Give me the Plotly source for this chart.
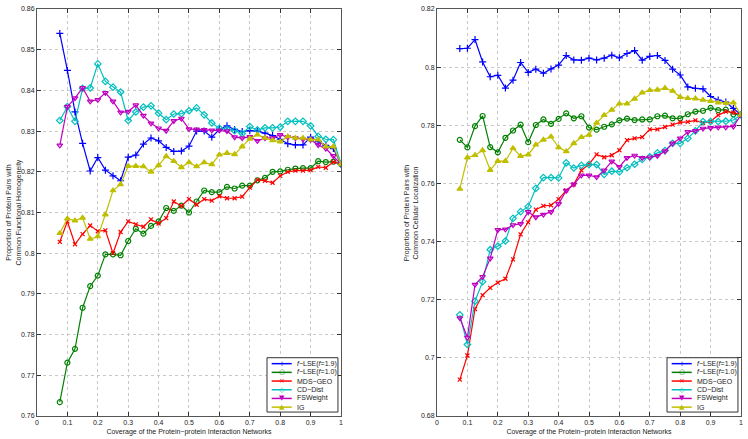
import plotly.graph_objects as go
from plotly.subplots import make_subplots

# coverage values (38 points, step 0.025)
coverage = [round(0.075 + 0.025 * i, 3) for i in range(38)]

# left panel: common functional homogeneity
fh_lse19 = [0.854, 0.8449, 0.8347, 0.827, 0.8202, 0.8235, 0.8204, 0.819, 0.8178, 0.8236,
            0.8241, 0.8268, 0.8283, 0.8276, 0.826, 0.825, 0.8251, 0.8263, 0.83, 0.83,
            0.8285, 0.8304, 0.8313, 0.8304, 0.8299, 0.8301, 0.83, 0.8295, 0.8289, 0.828,
            0.8269, 0.8266, 0.8266, 0.8285, 0.8274, 0.8265, 0.8257, 0.8219]
fh_lse10 = [0.7634, 0.7731, 0.7765, 0.7866, 0.7919, 0.7945, 0.7997, 0.7997, 0.7995, 0.803,
            0.806, 0.8048, 0.8067, 0.8078, 0.8111, 0.8104, 0.8117, 0.81, 0.8127, 0.8154,
            0.815, 0.815, 0.8163, 0.8159, 0.8166, 0.8166, 0.8179, 0.8185, 0.82, 0.8201,
            0.8205, 0.8208, 0.8209, 0.8209, 0.8226, 0.8224, 0.8225, 0.8219]
fh_mds = [0.8028, 0.8078, 0.8022, 0.8047, 0.8068, 0.8054, 0.8056, 0.80, 0.8052, 0.8078,
          0.8071, 0.8065, 0.8083, 0.8073, 0.8086, 0.8127, 0.8116, 0.8133, 0.8119, 0.8133,
          0.8129, 0.814, 0.8135, 0.8135, 0.8139, 0.8161, 0.818, 0.8178, 0.8173, 0.819,
          0.82, 0.8203, 0.8203, 0.8204, 0.8212, 0.821, 0.8224, 0.8219]
fh_cd = [0.8326, 0.836, 0.8324, 0.8405, 0.8406, 0.8465, 0.8422, 0.8408, 0.8396, 0.8326,
         0.8347, 0.8359, 0.8362, 0.8344, 0.8328, 0.8342, 0.8343, 0.835, 0.8357, 0.834,
         0.832, 0.8307, 0.8305, 0.8301, 0.8294, 0.8311, 0.8303, 0.8308, 0.8308, 0.831,
         0.8324, 0.8324, 0.8324, 0.8313, 0.8287, 0.828, 0.8279, 0.8219]
fh_fsw = [0.8265, 0.836, 0.8381, 0.8406, 0.8373, 0.8377, 0.8394, 0.8373, 0.8346, 0.8348,
          0.8364, 0.8338, 0.8319, 0.8307, 0.8301, 0.8325, 0.8331, 0.8305, 0.8304, 0.8303,
          0.8302, 0.8302, 0.83, 0.8285, 0.8283, 0.8286, 0.8276, 0.8283, 0.8283, 0.8291,
          0.8285, 0.8283, 0.828, 0.8279, 0.8266, 0.8257, 0.8239, 0.8219]
fh_ig = [0.8049, 0.8085, 0.808, 0.8087, 0.8035, 0.8041, 0.8095, 0.8154, 0.8169, 0.8214,
         0.8214, 0.8213, 0.82, 0.8216, 0.8238, 0.8226, 0.8211, 0.8223, 0.8213, 0.8223,
         0.8218, 0.8242, 0.8246, 0.8243, 0.8262, 0.8281, 0.8291, 0.8283, 0.8277, 0.8274,
         0.8287, 0.8283, 0.8283, 0.8279, 0.8279, 0.8262, 0.8262, 0.8219]

# right panel: common cellular localization
cl_lse19 = [0.8064, 0.8065, 0.8095, 0.8018, 0.7967, 0.7972, 0.7928, 0.7955, 0.8016, 0.7982,
            0.7993, 0.7979, 0.7994, 0.8007, 0.804, 0.8025, 0.8024, 0.8031, 0.8025, 0.8031,
            0.8041, 0.8032, 0.8047, 0.8057, 0.8024, 0.8037, 0.804, 0.8023, 0.7993, 0.7973,
            0.7932, 0.7927, 0.7925, 0.7899, 0.7887, 0.788, 0.7858, 0.7836]
cl_lse10 = [0.775, 0.7724, 0.7797, 0.7832, 0.7725, 0.7707, 0.7757, 0.7782, 0.7802, 0.7742,
            0.7801, 0.782, 0.7805, 0.7822, 0.7841, 0.7824, 0.7831, 0.7792, 0.7785, 0.7795,
            0.7803, 0.7817, 0.7823, 0.7818, 0.782, 0.782, 0.7831, 0.7833, 0.7824, 0.7824,
            0.7838, 0.7847, 0.785, 0.786, 0.7852, 0.7854, 0.7838, 0.7836]
cl_mds = [0.6925, 0.7008, 0.7168, 0.7216, 0.7241, 0.7259, 0.7272, 0.7339, 0.7425, 0.7466,
          0.751, 0.7523, 0.7525, 0.7546, 0.7576, 0.7597, 0.7645, 0.7666, 0.77, 0.769,
          0.7697, 0.7714, 0.7749, 0.7755, 0.7759, 0.7786, 0.7786, 0.7794, 0.7802, 0.781,
          0.7812, 0.7817, 0.7808, 0.7813, 0.7835, 0.7847, 0.7844, 0.7836]
cl_cd = [0.7148, 0.7046, 0.7195, 0.7262, 0.7372, 0.7384, 0.7402, 0.748, 0.7503, 0.752,
         0.7583, 0.762, 0.762, 0.7619, 0.7671, 0.7653, 0.7662, 0.7665, 0.7665, 0.7631,
         0.7642, 0.764, 0.7654, 0.7666, 0.7683, 0.7691, 0.7705, 0.7713, 0.7738, 0.7738,
         0.7755, 0.7781, 0.7813, 0.7813, 0.7813, 0.7814, 0.7818, 0.7836]
cl_fsw = [0.7137, 0.707, 0.7252, 0.7279, 0.7342, 0.744, 0.7442, 0.7457, 0.7461, 0.7502,
          0.7484, 0.7493, 0.7502, 0.753, 0.7575, 0.7597, 0.7628, 0.7628, 0.7622, 0.7645,
          0.7676, 0.7657, 0.7688, 0.7696, 0.7688, 0.769, 0.7695, 0.7711, 0.7738, 0.7755,
          0.7777, 0.7781, 0.7789, 0.7791, 0.7793, 0.7793, 0.7796, 0.7836]
cl_ig = [0.7581, 0.7689, 0.7697, 0.7714, 0.7646, 0.7677, 0.7677, 0.7721, 0.7694, 0.7699,
         0.7733, 0.775, 0.7761, 0.7724, 0.771, 0.7738, 0.7759, 0.7767, 0.7808, 0.7835,
         0.7853, 0.7874, 0.7874, 0.7891, 0.7912, 0.7921, 0.7922, 0.7928, 0.7918, 0.7897,
         0.7893, 0.7892, 0.7887, 0.7883, 0.7878, 0.7876, 0.7878, 0.7836]

nomes = ['<i>f</i>−LSE(<i>f</i>=1.9)', '<i>f</i>−LSE(<i>f</i>=1.0)', 'MDS−GEO',
         'CD−Dist', 'FSWeight', 'IG']
cores = ['#0000ff', '#008000', '#ff0000', '#00bfbf', '#bf00bf', '#bfbf00']
simbolos = ['cross-thin', 'circle-open', 'x-thin', 'diamond-open',
            'triangle-down-open', 'triangle-up']
tamanhos = [5, 5, 4, 5, 5, 5]
glifos = ['+', '○', '×', '◇', '▼', '▲']

fonte = 'Liberation Sans, Arial, sans-serif'
cor_texto = '#222222'

fig = make_subplots(rows=1, cols=2, horizontal_spacing=0.1364)

series_esq = [fh_lse19, fh_lse10, fh_mds, fh_cd, fh_fsw, fh_ig]
series_dir = [cl_lse19, cl_lse10, cl_mds, cl_cd, cl_fsw, cl_ig]

for col, series in [(1, series_esq), (2, series_dir)]:
    for nome, cor, simb, tam, ys in zip(nomes, cores, simbolos, tamanhos, series):
        fig.add_trace(go.Scatter(
            x=coverage, y=ys, name=nome, mode='lines+markers',
            line=dict(color=cor, width=1.2),
            marker=dict(symbol=simb, size=tam, color=cor,
                        line=dict(color=cor, width=1.2)),
            showlegend=False
        ), row=1, col=col)

eixo = dict(showline=True, linecolor='#555555', linewidth=1, mirror='ticks',
            ticks='inside', ticklen=4, tickcolor='#333333',
            showgrid=True, gridcolor='#c8c8c8', griddash='dot', gridwidth=1,
            zeroline=False, tickfont=dict(size=7, color=cor_texto, family=fonte))

fig.update_xaxes(range=[0, 1], dtick=0.1, **eixo)
fig.update_xaxes(title=dict(text='Coverage of the Protein−protein Interaction Networks',
                            font=dict(size=7, family=fonte, color=cor_texto), standoff=3))
fig.update_yaxes(**eixo)
fig.update_yaxes(range=[0.76, 0.86], dtick=0.01, row=1, col=1)
fig.update_yaxes(range=[0.68, 0.82], dtick=0.02, row=1, col=2)

for xp, linha2 in [(-0.0327, 'Common Functional Homogeneity'),
                   (0.531, 'Common Cellular Localization')]:
    fig.add_annotation(x=xp, y=0.5, xref='paper', yref='paper', xanchor='center',
                       yanchor='middle', textangle=-90, showarrow=False,
                       text='Proportion of Protein Pairs with<br>' + linha2,
                       font=dict(size=7, family=fonte, color=cor_texto))

# compact legend box (MATLAB style) drawn in each panel's domain
for xr, yr in [('x domain', 'y domain'), ('x2 domain', 'y2 domain')]:
    fig.add_shape(type='rect', xref=xr, yref=yr, x0=0.7566, x1=0.990, y0=0.0097, y1=0.1432,
                  line=dict(color='#333333', width=1), fillcolor='white', layer='above')
    for k, (nome, cor, glifo) in enumerate(zip(nomes, cores, glifos)):
        yy = 0.1286 - 0.02136 * k
        fig.add_shape(type='line', xref=xr, yref=yr, x0=0.772, x1=0.838, y0=yy, y1=yy,
                      line=dict(color=cor, width=1.5), layer='above')
        fig.add_annotation(xref=xr, yref=yr, x=0.805, y=yy, text=glifo, showarrow=False,
                           xanchor='center', yanchor='middle',
                           font=dict(size=7, color=cor, family='DejaVu Sans'))
        fig.add_annotation(xref=xr, yref=yr, x=0.849, y=yy, text=nome, showarrow=False,
                           xanchor='left', yanchor='middle',
                           font=dict(size=7, color=cor_texto, family=fonte))

fig.update_layout(
    width=748, height=439,
    margin=dict(l=37, r=7, t=5, b=22),
    plot_bgcolor='white', paper_bgcolor='white',
    showlegend=False,
    font=dict(family=fonte)
)

fig.write_html('out.html', config={'displayModeBar': False},
               post_script="document.body.style.margin='0';")
